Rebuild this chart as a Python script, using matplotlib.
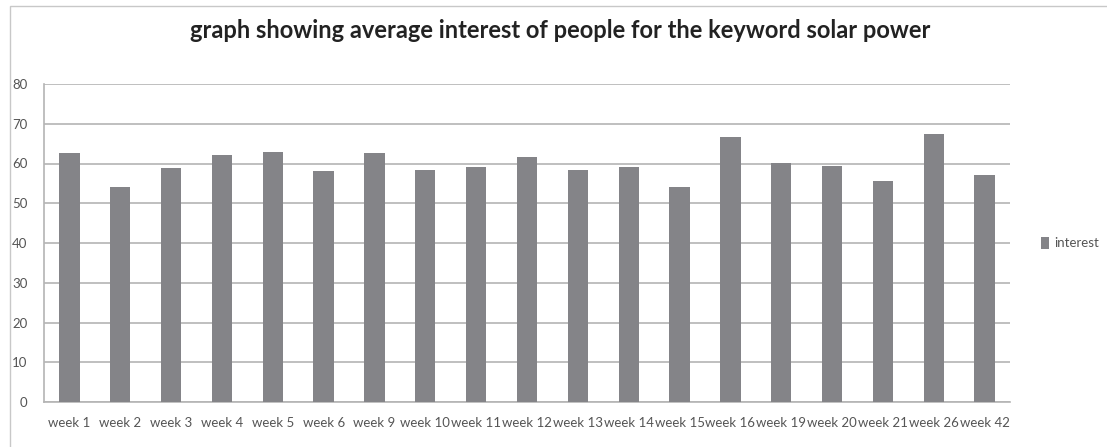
import matplotlib.pyplot as plt
from matplotlib.patches import Rectangle

# data
weeks = ["week 1", "week 2", "week 3", "week 4", "week 5", "week 6", "week 9",
         "week 10", "week 11", "week 12", "week 13", "week 14", "week 15",
         "week 16", "week 19", "week 20", "week 21", "week 26", "week 42"]
interest = [62.6, 54.0, 58.8, 62.2, 63.0, 58.1, 62.6,
            58.4, 59.2, 61.6, 58.4, 59.2, 54.0,
            66.7, 60.1, 59.4, 55.7, 67.4, 57.0]
yticks = [0, 10, 20, 30, 40, 50, 60, 70, 80]

plt.rcParams["font.family"] = ["Lato", "DejaVu Sans"]

fig = plt.figure(figsize=(11.07, 4.47), dpi=100)
ax = fig.add_axes([44 / 1107, 1 - 402 / 447, 966 / 1107, 318 / 447])

# chart frame
fig.patches.append(Rectangle((10 / 1107, -0.1), 1.2, 1 - 6 / 447 + 0.1,
                             transform=fig.transFigure, fill=False,
                             edgecolor="#c8c8c8", linewidth=1))

x = range(len(weeks))
ax.bar(x, interest, width=0.4, color="#848488", label="interest", zorder=3)

ax.set_xlim(-0.5, len(weeks) - 0.5)
ax.set_ylim(0, 80)
ax.set_yticks(yticks)
ax.set_xticks(list(x))
ax.set_xticklabels(weeks)
ax.tick_params(axis="both", length=0, labelsize=9.5, colors="#555555")
ax.tick_params(axis="x", pad=11)
ax.tick_params(axis="y", pad=12)
ax.grid(axis="y", color="#b4b4b4", linewidth=1.2, zorder=0)

for s in ["top", "right"]:
    ax.spines[s].set_visible(False)
ax.spines["left"].set_color("#b4b4b4")
ax.spines["bottom"].set_color("#b4b4b4")
ax.spines["left"].set_linewidth(1.2)
ax.spines["bottom"].set_linewidth(1.2)

fig.text(560 / 1107, 1 - 30 / 447, "graph showing average interest of people for the keyword solar power",
         ha="center", va="center", fontsize=17, fontweight="bold", color="#222222")

ax.legend(loc="center left", bbox_to_anchor=(1.02, 0.5), frameon=False,
          fontsize=9.5, handlelength=0.6, handleheight=1.0, handletextpad=0.4,
          labelcolor="#555555")

fig.savefig("out.png", dpi=100)
